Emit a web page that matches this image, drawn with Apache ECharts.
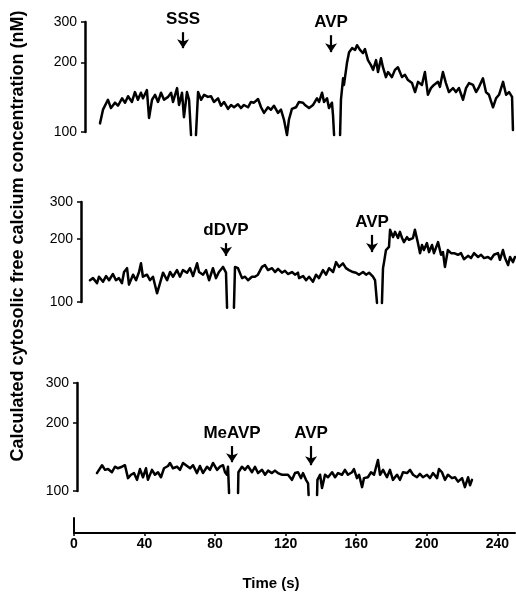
<!DOCTYPE html>
<html><head><meta charset="utf-8">
<script src="https://cdn.jsdelivr.net/npm/echarts@6/dist/echarts.min.js"></script>
<style>html,body{margin:0;padding:0;background:#fff}#c{width:516px;height:592px}</style>
</head><body><div id="c"></div>
<script>
const FONT = '"Liberation Sans", Arial, Helvetica, sans-serif';
const timeTicks = [0, 40, 80, 120, 160, 200, 240];
const concTicks = [100, 200, 300];

// Panel 1: SSS then AVP  [time (s), nM]
const trace1 = [[8.5,109],[10.2,125],[13.0,138],[14.7,127],[17.0,134],[18.7,130],[21.0,140],[22.7,134],[24.4,143],[26.6,135],[28.3,149],[30.0,138],[31.7,148],[32.9,140],[35.1,152],[36.3,115],[38.0,138],[39.7,145],[41.4,135],[43.1,148],[44.8,138],[47.1,142],[48.8,148],[49.9,135],[52.2,155],[53.3,131],[55.0,148],[56.1,116],[57.8,149],[59.0,138],[60.1,97],[61.5,null],[62.9,97],[64.1,149],[65.8,138],[67.5,145],[69.7,142],[71.4,143],[73.1,135],[75.4,140],[77.1,130],[78.8,135],[81.1,126],[82.8,131],[84.5,128],[86.7,132],[88.4,127],[90.1,131],[92.4,128],[94.1,135],[95.8,134],[98.1,139],[99.8,128],[101.5,121],[103.7,128],[105.4,125],[107.1,130],[109.4,121],[111.1,125],[112.8,113],[114.5,97],[115.6,113],[117.3,126],[119.6,128],[121.3,135],[123.6,134],[124.7,131],[127.0,127],[129.3,131],[131.5,140],[132.7,135],[134.4,148],[135.5,135],[137.2,140],[138.3,127],[140.0,134],[140.6,118],[141.2,97],[143.0,null],[144.6,97],[145.1,138],[146.3,171],[146.8,160],[148.5,199],[149.7,222],[151.4,231],[153.1,227],[154.2,238],[155.9,227],[157.6,220],[158.7,229],[160.4,205],[162.1,195],[163.3,186],[165.0,205],[166.1,182],[167.8,209],[168.9,191],[170.6,173],[171.8,182],[174.0,173],[175.7,186],[177.4,191],[179.7,173],[181.4,177],[183.1,168],[185.4,163],[187.1,149],[188.8,165],[191.0,160],[192.7,182],[194.4,145],[196.1,155],[197.8,160],[200.1,165],[201.2,157],[202.9,182],[204.6,163],[206.3,149],[208.6,155],[210.3,149],[212.0,155],[214.3,138],[216.0,155],[217.7,163],[220.0,160],[221.7,149],[223.4,157],[225.6,171],[227.3,149],[229.0,145],[231.3,128],[233.0,140],[234.7,145],[237.0,165],[238.7,145],[240.4,149],[242.1,142],[242.6,102]];

// Panel 2: dDVP then AVP
const trace2 = [[5.1,127],[6.8,130],[9.1,123],[10.2,132],[12.5,125],[14.2,133],[15.9,127],[18.1,136],[19.8,127],[21.5,130],[23.2,123],[24.4,139],[26.1,145],[27.2,121],[29.5,135],[31.2,127],[32.9,139],[34.0,153],[35.1,132],[37.4,135],[39.1,127],[40.8,132],[43.1,110],[44.8,123],[46.5,138],[48.8,127],[50.5,139],[52.2,132],[54.4,142],[56.1,132],[57.8,142],[60.1,138],[61.8,145],[63.5,133],[65.8,153],[66.9,139],[69.2,135],[70.9,142],[72.6,127],[74.8,145],[76.5,130],[78.2,139],[80.5,147],[81.1,150],[82.2,138],[82.8,94],[84.5,null],[86.7,94],[87.3,147],[89.0,145],[91.3,130],[93.0,132],[94.7,127],[96.9,132],[98.6,132],[100.3,135],[102.6,147],[104.3,150],[106.0,142],[108.3,145],[110.0,139],[111.7,144],[113.9,138],[115.6,141],[117.3,136],[119.6,139],[121.3,135],[123.0,138],[123.6,130],[125.9,133],[127.6,127],[129.3,132],[131.5,125],[133.2,135],[134.9,130],[137.2,142],[138.9,135],[140.6,145],[142.9,139],[144.6,155],[146.3,147],[148.5,153],[150.2,145],[151.9,142],[154.2,139],[155.9,138],[157.6,135],[159.9,139],[161.6,135],[163.3,138],[165.5,132],[166.7,127],[167.8,99],[169.2,null],[170.6,99],[171.2,145],[171.8,155],[172.9,177],[174.6,183],[175.2,221],[176.9,204],[178.0,216],[179.7,202],[180.8,216],[182.0,202],[183.1,193],[184.8,204],[185.9,198],[188.2,202],[189.3,221],[191.0,191],[192.2,171],[193.3,187],[194.4,177],[196.1,191],[197.3,173],[199.0,187],[200.1,171],[202.4,193],[204.1,168],[205.2,173],[206.3,147],[208.0,177],[209.8,171],[211.5,171],[213.7,168],[215.4,171],[217.1,160],[219.4,166],[221.1,162],[222.8,171],[225.1,164],[226.8,168],[228.5,162],[230.7,164],[232.4,160],[234.1,168],[236.4,171],[237.5,159],[239.2,177],[240.4,162],[242.1,150],[243.2,164],[244.9,155],[246.0,164]];

// Panel 3: MeAVP then AVP
const trace3 = [[11.3,120],[14.2,130],[15.9,124],[17.6,125],[19.8,121],[21.5,128],[23.2,126],[25.5,128],[27.2,130],[28.9,114],[30.6,118],[32.3,120],[34.0,112],[35.7,125],[37.4,115],[39.1,126],[40.2,112],[42.5,124],[44.2,118],[45.9,121],[47.6,115],[49.3,126],[51.6,129],[52.7,133],[54.4,126],[56.7,128],[58.4,124],[60.1,133],[62.4,129],[64.1,126],[65.8,130],[68.0,120],[69.7,129],[71.4,120],[73.7,128],[75.4,124],[77.1,133],[79.4,124],[81.1,128],[82.8,130],[83.9,121],[85.0,118],[85.6,128],[86.2,98],[88.5,null],[91.3,98],[91.5,121],[93.5,128],[95.2,124],[96.9,129],[99.2,121],[100.9,128],[102.6,120],[104.9,124],[106.6,118],[108.3,123],[110.5,120],[112.2,123],[113.9,120],[116.0,118],[117.9,118],[119.6,118],[121.9,112],[123.6,120],[125.3,121],[127.0,114],[128.1,120],[129.8,112],[131.0,108],[131.3,96],[133.5,null],[136.1,96],[136.3,112],[137.8,118],[138.9,103],[140.6,118],[142.3,115],[144.6,121],[146.3,115],[148.0,120],[150.2,118],[151.9,124],[153.6,118],[155.9,121],[157.0,125],[158.7,114],[159.9,118],[161.6,104],[162.7,114],[164.9,115],[166.7,121],[168.4,118],[170.6,137],[171.8,118],[173.5,124],[175.7,115],[177.4,124],[179.1,112],[181.4,118],[183.1,112],[184.8,121],[187.1,120],[188.8,124],[190.5,118],[192.7,115],[194.4,119],[196.1,115],[198.4,118],[200.1,114],[201.8,120],[204.1,114],[205.2,125],[206.9,121],[208.6,112],[210.3,118],[212.6,114],[214.3,115],[216.0,110],[218.3,114],[219.9,104],[221.7,115],[222.8,106],[223.9,112]];

// Drug additions: label, time, arrow top / bottom (nM)
const ev1Labels = ['SSS', 'AVP'];
const ev1Times = [55.6, 139.5];
const ev1Top = [271, 263];
const ev1Bottom = [231, 222];

const ev2Labels = ['dDVP', 'AVP'];
const ev2Times = [82.2, 165.0];
const ev2Top = [191, 209];
const ev2Bottom = [166, 173];

const ev3Labels = ['MeAVP', 'AVP'];
const ev3Times = [87.9, 132.7];
const ev3Top = [158, 158];
const ev3Bottom = [134, 130];

const traces = [trace1, trace2, trace3];
const events = [
  [ev1Labels, ev1Times, ev1Top, ev1Bottom],
  [ev2Labels, ev2Times, ev2Top, ev2Bottom],
  [ev3Labels, ev3Times, ev3Top, ev3Bottom]
];

const gridBoxes = [
  {left: 85, top: 22, height: 110, width: 441, outerBoundsMode: 'none', containLabel: false},
  {left: 81, top: 202, height: 100, width: 441, outerBoundsMode: 'none', containLabel: false},
  {left: 77, top: 383, height: 108, width: 441, outerBoundsMode: 'none', containLabel: false},
  {left: 74, top: 518, height: 15, width: 441, outerBoundsMode: 'none', containLabel: false}
];

const xAxes = [], yAxes = [], series = [];
for (let i = 0; i < 3; i++) {
  xAxes.push({gridIndex: i, type: 'value', min: 0, max: 250, show: false});
  yAxes.push({
    gridIndex: i, type: 'log', logBase: 10, min: 100, max: 300,
    axisLine: {show: true, lineStyle: {color: '#000', width: 2.5}},
    axisTick: {show: true, length: 4, customValues: concTicks, lineStyle: {color: '#000', width: 1.5}},
    axisLabel: {customValues: concTicks, color: '#000', fontSize: 14, fontFamily: FONT, margin: 8},
    splitLine: {show: false}
  });
  const [labs, ts, tops, bots] = events[i];
  series.push({
    type: 'line', xAxisIndex: i, yAxisIndex: i, data: traces[i],
    showSymbol: false, symbol: 'none', clip: false, connectNulls: false,
    lineStyle: {color: '#000', width: 2.5, join: 'round', cap: 'round'},
    animation: false, silent: true,
    markLine: {
      silent: true, animation: false,
      symbol: ['none', 'arrow'], symbolSize: 9,
      lineStyle: {color: '#000', width: 2.2, type: 'solid'},
      label: {show: true, position: 'start', formatter: '{b}', color: '#000',
              fontWeight: 'bold', fontSize: 17, fontFamily: FONT, distance: 4},
      data: labs.map((l, k) => [
        {name: l, coord: [ts[k], tops[k]]},
        {coord: [ts[k], bots[k]]}
      ])
    }
  });
}
xAxes.push({
  gridIndex: 3, type: 'value', min: 0, max: 250,
  axisLine: {show: true, lineStyle: {color: '#000', width: 2}},
  axisTick: {show: true, length: 3, customValues: timeTicks, lineStyle: {color: '#000', width: 1.5}},
  axisLabel: {customValues: timeTicks, color: '#000', fontSize: 14, fontWeight: 'bold', fontFamily: FONT, margin: 4},
  splitLine: {show: false}
});
yAxes.push({
  gridIndex: 3, type: 'value', min: 0, max: 1,
  axisLine: {show: true, lineStyle: {color: '#000', width: 2}},
  axisTick: {show: false}, axisLabel: {show: false}, splitLine: {show: false}
});

const chart = echarts.init(document.getElementById('c'), null, {renderer: 'canvas'});
chart.setOption({
  backgroundColor: '#fff',
  animation: false,
  grid: gridBoxes,
  xAxis: xAxes,
  yAxis: yAxes,
  series: series,
  graphic: [
    {type: 'text', x: 18, y: 236, rotation: Math.PI / 2,
     style: {text: 'Calculated cytosolic free calcium concentration (nM)', align: 'center', verticalAlign: 'middle',
             font: 'bold 18px ' + FONT, fill: '#000'}},
    {type: 'text', x: 271, y: 584,
     style: {text: 'Time (s)', align: 'center', verticalAlign: 'middle', font: 'bold 15px ' + FONT, fill: '#000'}}
  ]
});
</script></body></html>
